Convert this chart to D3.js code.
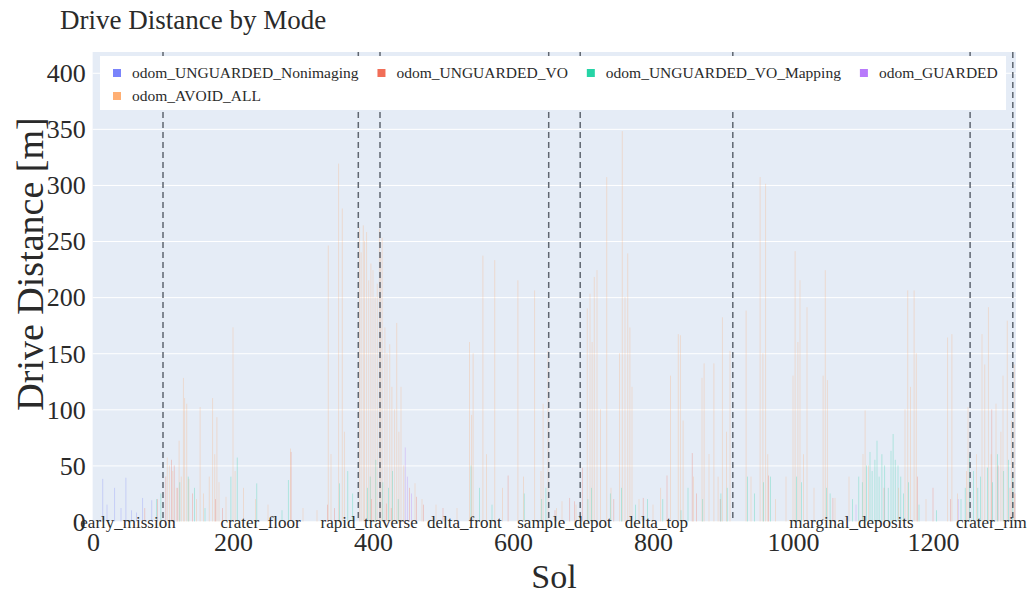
<!DOCTYPE html>
<html>
<head>
<meta charset="utf-8">
<script src="https://cdn.jsdelivr.net/npm/d3@7"></script>
<style>
  body { margin: 0; background: #fff; }
  svg { display: block; font-family: "Liberation Serif", "Times New Roman", serif; }
</style>
</head>
<body>
<svg id="chart" width="1033" height="595"></svg>
<script>
'use strict';

// drive modes, in stack order (bottom -> top)
var modes = ['odom_UNGUARDED_Nonimaging', 'odom_UNGUARDED_VO', 'odom_UNGUARDED_VO_Mapping', 'odom_GUARDED', 'odom_AVOID_ALL'];
var colors = ['#636EFA', '#EF553B', '#00CC96', '#AB63FA', '#FFA15A'];

// [sol, metres]
var nonimaging = [[14,38],[20,15],[31,30],[40,12],[47,39],[55,10],[62,8],[71,21],[84,19]];

var unguardedVO = [[74,12],[92,20],[104,40],[112,55],[116,50],[121,30],[142,25],[175,20],[185,12],[283,62],
	[335,15],[345,12],[398,20],[419,16],[426,12],[452,30],[462,22],[472,15],[500,12],[593,41],[660,10],[681,21],
	[688,18],[699,48],[744,20],[786,21],[820,41],[856,61],[862,25],[896,20],[965,41],[1057,21],[1130,30],[1178,40],
	[1200,30],[1225,20],[1284,100],[1293,50],[1310,30],[1317,25]];

var voMapping = [[91,20],[97,25],[124,35],[136,40],[145,30],[160,12],[197,40],[206,57],[234,34],[270,10],[279,37],
	[352,34],[364,45],[371,25],[392,30],[396,40],[404,55],[414,35],[422,30],[428,45],[436,20],[540,50],[552,30],
	[570,15],[616,25],[641,20],[647,30],[707,20],[712,30],[739,25],[755,30],[775,15],[792,20],[814,20],[840,10],
	[850,30],[871,20],[897,25],[906,30],[935,40],[945,25],[958,35],[968,40],[1005,40],[1012,35],[1048,30],[1053,25],
	[1085,20],[1094,40],[1099,35],[1105,50],[1110,62],[1113,45],[1117,55],[1120,72],[1123,40],[1127,60],[1131,50],
	[1136,30],[1140,63],[1143,78],[1146,55],[1150,50],[1154,40],[1158,25],[1165,35],[1180,15],[1205,10],[1240,20],
	[1246,30],[1252,60],[1258,45],[1264,30],[1268,40],[1278,48],[1285,35],[1292,60],[1301,45],[1308,55],[1314,40]];

var guarded = [[446,66],[449,40],[455,25],[1090,15],[1236,20]];

var avoidAll = [[106,57],[109,50],[114,45],[119,30],[123,72],[126,40],[129,128],[131,110],[134,105],[137,38],
	[148,20],[153,102],[158,25],[166,40],[171,110],[174,60],[177,93],[180,35],[190,22],[200,173],[203,45],[215,30],
	[232,20],[250,15],[282,65],[300,12],[320,10],[336,246],[340,60],[351,319],[356,279],[359,80],
	[381,262],[383,240],[386,264],[388,250],[391,258],[394,215],[397,230],[400,224],[403,200],[406,212],[409,261],
	[411,240],[413,253],[417,173],[420,150],[424,158],[427,120],[431,100],[434,177],[437,80],[440,120],[444,50],
	[460,34],[470,20],[490,15],[520,12],[538,160],[541,95],[543,150],[557,237],[562,60],[574,233],[585,30],[607,215],
	[615,40],[631,206],[640,45],[643,105],[650,152],[662,12],[670,18],[690,15],
	[706,190],[710,203],[713,160],[716,218],[720,224],[725,100],[734,307],[740,30],[752,150],[756,348],[760,200],
	[764,239],[767,173],[770,120],[780,20],[800,15],[811,30],[825,130],[836,167],[839,166],[843,90],[858,40],
	[870,128],[873,141],[880,60],[887,141],[893,40],[899,182],[905,80],[910,152],
	[933,188],[940,40],[953,307],[957,150],[961,301],[964,60],[975,20],[990,40],[1000,130],[1003,241],[1007,160],
	[1010,215],[1015,60],[1020,191],[1030,30],[1043,130],[1046,224],[1049,126],[1060,21],[1080,40],[1100,60],
	[1103,99],[1108,50],[1151,30],[1160,100],[1164,206],[1168,120],[1173,206],[1176,150],[1190,20],[1221,164],
	[1227,167],[1235,25],[1248,45],[1250,102],[1262,60],[1270,167],[1274,140],[1279,191],[1283,60],[1290,105],
	[1297,80],[1300,130],[1306,179],[1312,90],[1316,140]];

var series = [nonimaging, unguardedVO, voMapping, guarded, avoidAll];

// mission phases: boundaries in sols and names
var phaseBounds = [0, 100, 379, 410, 651, 696, 914, 1253, 1314];
var phaseNames = ['early_mission', 'crater_floor', 'rapid_traverse', 'delta_front', 'sample_depot', 'delta_top', 'marginal_deposits', 'crater_rim'];

var xTicks = [0, 200, 400, 600, 800, 1000, 1200];
var yTicks = [0, 50, 100, 150, 200, 250, 300, 350, 400];

var textColor = '#2a2a2a';
var svg = d3.select('#chart');

var x = d3.scaleLinear().domain([-0.5, 1318.5]).range([92.65, 1015.95]);
var y = d3.scaleLinear().domain([0, 418.5]).range([521.5, 52]);

// build one row per sol for the stack
var bySol = new Map();
series.forEach(function(s, i){
	s.forEach(function(d){
		if (!bySol.has(d[0])) {
			var row = { sol: d[0] };
			modes.forEach(function(m){ row[m] = 0; });
			bySol.set(d[0], row);
		}
		bySol.get(d[0])[modes[i]] += d[1];
	});
});
var table = Array.from(bySol.values()).sort(function(a, b){ return a.sol - b.sol; });
var stacked = d3.stack().keys(modes)(table);

// plot background
svg.append('rect')
	.attr('x', x.range()[0]).attr('y', y.range()[1])
	.attr('width', x.range()[1] - x.range()[0])
	.attr('height', y.range()[0] - y.range()[1])
	.attr('fill', '#E5ECF6');

// y grid
svg.append('g')
	.attr('transform', 'translate(' + x.range()[0] + ',0)')
	.call(d3.axisLeft(y).tickValues(yTicks).tickSize(-(x.range()[1] - x.range()[0])).tickFormat(''))
	.call(function(g){
		g.select('.domain').remove();
		g.selectAll('line').attr('stroke', '#fff').attr('stroke-width', 1);
	});

// bars
svg.append('g').selectAll('g')
	.data(stacked)
	.enter().append('g')
		.attr('fill', function(d, i){ return colors[i]; })
		.attr('fill-opacity', 0.34)
	.selectAll('rect')
		.data(function(d){ return d.filter(function(p){ return p[1] > p[0]; }); })
	.enter().append('rect')
		.attr('x', function(d){ return x(d.data.sol - 0.5); })
		.attr('width', function(d){ return x(d.data.sol + 0.5) - x(d.data.sol - 0.5); })
		.attr('y', function(d){ return y(d[1]); })
		.attr('height', function(d){ return y(d[0]) - y(d[1]); });

// phase boundaries
svg.append('g').selectAll('line')
	.data(phaseBounds.slice(1))
	.enter().append('line')
		.attr('x1', function(d){ return x(d); })
		.attr('x2', function(d){ return x(d); })
		.attr('y1', y.range()[1]).attr('y2', y.range()[0])
		.attr('stroke', '#5f6670')
		.attr('stroke-width', 1.5)
		.attr('stroke-dasharray', '6,4');

// axes
var xAxis = svg.append('g')
	.attr('transform', 'translate(0,' + y.range()[0] + ')')
	.call(d3.axisBottom(x).tickValues(xTicks).tickFormat(d3.format('d')).tickSize(0).tickPadding(0));
xAxis.select('.domain').remove();
xAxis.selectAll('text')
	.attr('y', 29).attr('dy', null)
	.attr('font-size', 26).attr('font-family', 'Liberation Serif').attr('fill', textColor);

var yAxis = svg.append('g')
	.attr('transform', 'translate(' + x.range()[0] + ',0)')
	.call(d3.axisLeft(y).tickValues(yTicks).tickSize(0).tickPadding(7));
yAxis.select('.domain').remove();
yAxis.selectAll('text')
	.attr('dy', '0.34em')
	.attr('font-size', 26).attr('font-family', 'Liberation Serif').attr('fill', textColor);

// phase labels
svg.append('g').selectAll('text')
	.data(phaseNames)
	.enter().append('text')
		.attr('x', function(d, i){ return x((phaseBounds[i] + phaseBounds[i + 1]) / 2); })
		.attr('y', y(0) + 6)
		.attr('text-anchor', 'middle')
		.attr('font-size', 17)
		.attr('fill', textColor)
		.text(function(d){ return d; });

// legend: four items on the first row, the rest below
var legend = svg.append('g');
legend.append('rect')
	.attr('x', 100).attr('y', 56).attr('width', 906).attr('height', 54)
	.attr('fill', '#fff');
var lx = 110, ly = 73;
modes.forEach(function(m, i){
	if (i === 4) { lx = 110; ly += 23; }
	var item = legend.append('g').attr('transform', 'translate(' + lx + ',' + ly + ')');
	item.append('rect')
		.attr('x', 3).attr('y', -4).attr('width', 8).attr('height', 8)
		.attr('fill', colors[i]).attr('fill-opacity', 0.85);
	var t = item.append('text')
		.attr('x', 22).attr('dy', '0.33em')
		.attr('font-size', 15.5).attr('fill', textColor)
		.text(m);
	lx += 22 + t.node().getComputedTextLength() + 16;
});

// titles
svg.append('text')
	.attr('x', 60).attr('y', 29)
	.attr('font-size', 27).attr('fill', textColor)
	.text('Drive Distance by Mode');

svg.append('text')
	.attr('transform', 'translate(43,264) rotate(-90)')
	.attr('text-anchor', 'middle')
	.attr('font-size', 38).attr('fill', textColor)
	.text('Drive Distance [m]');

svg.append('text')
	.attr('x', 554).attr('y', 588)
	.attr('text-anchor', 'middle')
	.attr('font-size', 34).attr('fill', textColor)
	.text('Sol');
</script>
</body>
</html>
